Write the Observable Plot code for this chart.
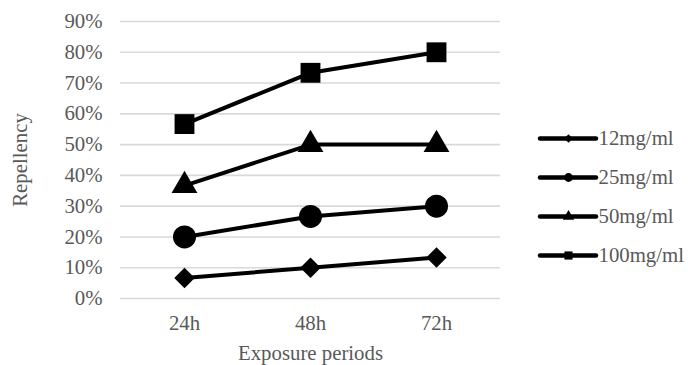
<!DOCTYPE html>
<html>
<head>
<meta charset="utf-8">
<script src="https://cdn.jsdelivr.net/npm/d3@7"></script>
<script src="https://cdn.jsdelivr.net/npm/@observablehq/plot@0.6"></script>
<style>
  html, body { margin: 0; padding: 0; background: #fff; }
  #chart { position: relative; width: 688px; height: 365px; }
  #legend { position: absolute; left: 530px; top: 118px; }
  svg { font-family: "Liberation Serif", "Times New Roman", serif; }
</style>
</head>
<body>
<div id="chart"><div id="legend"></div></div>
<script>
// Exposure periods (x categories)
const periods = ["24h", "48h", "72h"];
// Concentrations (series)
const concentrations = ["12mg/ml", "25mg/ml", "50mg/ml", "100mg/ml"];
// Repellency (fraction) per concentration, for 24h / 48h / 72h
const rep12 = [0.0667, 0.10, 0.1333];
const rep25 = [0.20, 0.2667, 0.30];
const rep50 = [0.3667, 0.50, 0.50];
const rep100 = [0.5667, 0.7333, 0.80];
// Y-axis ticks
const yTicks = [0, 0.1, 0.2, 0.3, 0.4, 0.5, 0.6, 0.7, 0.8, 0.9];

const seriesValues = [rep12, rep25, rep50, rep100];
const rows = concentrations.flatMap((c, i) =>
  periods.map((p, j) => ({ period: p, conc: c, value: seriesValues[i][j] }))
);

// Marker styling per series
const symbols = ["diamond2", "circle", "triangle", "square"];
const markerR = { "12mg/ml": 9.2, "25mg/ml": 11.5, "50mg/ml": 9.6, "100mg/ml": 11.2 };
const legendR = { "12mg/ml": 3.8, "25mg/ml": 4.4, "50mg/ml": 4.2, "100mg/ml": 4.6 };

const textColor = "#595959";
const fontSize = 20.8;

const chart = Plot.plot({
  width: 688,
  height: 365,
  marginLeft: 120,
  marginRight: 188,
  marginTop: 21,
  marginBottom: 67,
  style: { fontSize: fontSize + "px", color: textColor, background: "#fff" },
  x: { type: "point", domain: periods, padding: 0.5 },
  y: { domain: [0, 0.9] },
  symbol: { domain: concentrations, range: symbols },
  r: { type: "identity" },
  marks: [
    Plot.ruleY(yTicks, { stroke: "#d9d9d9", strokeWidth: 1.6 }),
    Plot.axisY({
      ticks: yTicks, tickSize: 0, tickPadding: 18,
      tickFormat: d => Math.round(d * 100) + "%",
      fill: textColor, fontSize: fontSize,
      label: null
    }),
    Plot.text(["Repellency"], {
      frameAnchor: "left", textAnchor: "middle", dx: -100, rotate: -90,
      fill: textColor, fontSize: fontSize
    }),
    Plot.axisX({
      tickSize: 0, tickPadding: 17,
      fill: textColor, fontSize: fontSize,
      label: null
    }),
    Plot.text(["Exposure periods"], {
      frameAnchor: "bottom", dy: 61,
      fill: textColor, fontSize: fontSize
    }),
    Plot.line(rows, {
      x: "period", y: "value", z: "conc",
      stroke: "#000", strokeWidth: 4, strokeLinejoin: "round"
    }),
    Plot.dot(rows, {
      x: "period", y: "value", symbol: "conc",
      r: d => markerR[d.conc], fill: "#000", stroke: "none"
    })
  ]
});
document.getElementById("chart").prepend(chart);

// Legend: one row per concentration with a line sample and marker
const legend = Plot.plot({
  width: 158,
  height: 160,
  margin: 0,
  style: { fontSize: fontSize + "px", color: textColor, background: "transparent" },
  x: { domain: [0, 1], range: [10, 66], axis: null },
  y: { type: "point", domain: concentrations, range: [20, 137], padding: 0, axis: null },
  symbol: { domain: concentrations, range: symbols },
  r: { type: "identity" },
  marks: [
    Plot.ruleY(concentrations, { y: d => d, x1: 0, x2: 1, stroke: "#000", strokeWidth: 4.5, strokeLinecap: "round" }),
    Plot.dot(concentrations, { x: 0.5, y: d => d, symbol: d => d, r: d => legendR[d], fill: "#000", stroke: "none" }),
    Plot.text(concentrations, { x: 1, y: d => d, text: d => d, textAnchor: "start", dx: 2, fill: textColor, fontSize: fontSize })
  ]
});
document.getElementById("legend").append(legend);
</script>
</body>
</html>
